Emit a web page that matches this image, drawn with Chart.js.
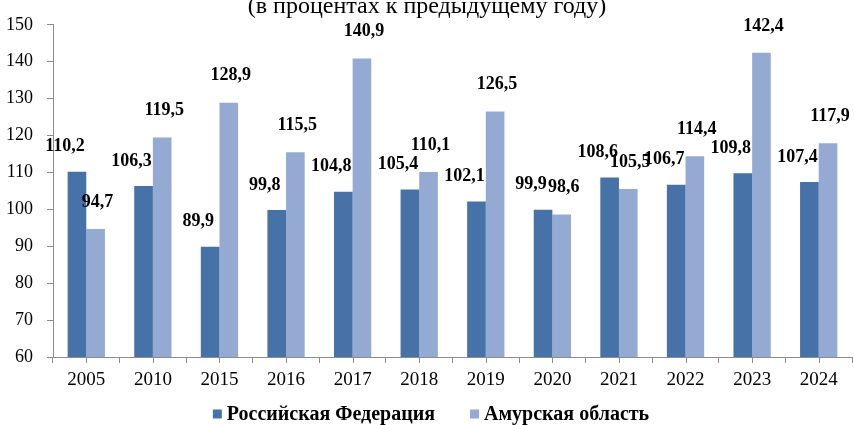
<!DOCTYPE html>
<html>
<head>
<meta charset="utf-8">
<script src="https://cdn.jsdelivr.net/npm/chart.js@4/dist/chart.umd.min.js"></script>
<style>
  html, body { margin: 0; padding: 0; background: #ffffff; }
  #wrap { width: 854px; height: 425px; position: relative; }
</style>
</head>
<body>
<div id="wrap"><canvas id="c" width="854" height="425"></canvas></div>
<script>
const categories = ['2005', '2010', '2015', '2016', '2017', '2018', '2019', '2020', '2021', '2022', '2023', '2024'];
const russiaValues = [110.2, 106.3, 89.9, 99.8, 104.8, 105.4, 102.1, 99.9, 108.6, 106.7, 109.8, 107.4];
const amurValues = [94.7, 119.5, 128.9, 115.5, 140.9, 110.1, 126.5, 98.6, 105.5, 114.4, 142.4, 117.9];
const seriesNames = ['Российская Федерация', 'Амурская область'];
const titleText = '(в процентах к предыдущему году)';
const yMin = 60, yMax = 150, yStep = 10;

const SERIF = '"Liberation Serif", "Times New Roman", serif';
const AXIS_COLOR = '#8c8c8c';
const COLORS = ['#4672a8', '#95aad3'];

const fmt = v => v.toFixed(1).replace('.', ',');

const titlePlugin = {
  id: 'cutTitle',
  afterDraw(chart) {
    const ctx = chart.ctx;
    ctx.save();
    ctx.font = '24px ' + SERIF;
    ctx.fillStyle = '#000';
    ctx.textAlign = 'center';
    ctx.textBaseline = 'alphabetic';
    ctx.fillText(titleText, 427, 13);
    ctx.restore();
  }
};

const legendPlugin = {
  id: 'bottomLegend',
  afterDraw(chart) {
    const ctx = chart.ctx;
    ctx.save();
    ctx.font = 'bold 20px ' + SERIF;
    ctx.textBaseline = 'middle';
    ctx.textAlign = 'left';
    const box = 9, gap = 5, spacing = 35;
    const widths = seriesNames.map(n => ctx.measureText(n).width);
    const total = widths.reduce((a, w) => a + box + gap + w, 0) + spacing * (seriesNames.length - 1);
    let x = 431 - total / 2;
    const cy = 414;
    seriesNames.forEach((n, i) => {
      ctx.fillStyle = COLORS[i];
      ctx.fillRect(x, cy - box / 2, box, box);
      ctx.fillStyle = '#000';
      ctx.fillText(n, x + box + gap, cy + 1);
      x += box + gap + widths[i] + spacing;
    });
    ctx.restore();
  }
};

const labelPlugin = {
  id: 'barLabels',
  afterDatasetsDraw(chart) {
    const ctx = chart.ctx;
    ctx.save();
    ctx.font = 'bold 18px ' + SERIF;
    ctx.fillStyle = '#000';
    ctx.textAlign = 'center';
    ctx.textBaseline = 'bottom';
    chart.data.datasets.forEach((ds, di) => {
      const meta = chart.getDatasetMeta(di);
      const dx = di === 0 ? -12 : 2;
      const dy = di === 0 ? 16 : 18;
      meta.data.forEach((bar, i) => {
        ctx.fillText(fmt(ds.data[i]), bar.x + dx, bar.y - dy);
      });
    });
    ctx.restore();
  }
};

const xTickPlugin = {
  id: 'xCenterTicks',
  afterDraw(chart) {
    const xs = chart.scales.x;
    const ctx = chart.ctx;
    ctx.save();
    ctx.strokeStyle = AXIS_COLOR;
    ctx.lineWidth = 1;
    ctx.beginPath();
    for (let i = 0; i < categories.length; i++) {
      const x = Math.round(xs.getPixelForValue(i)) + 0.5;
      ctx.moveTo(x, xs.top);
      ctx.lineTo(x, xs.top + 6);
    }
    ctx.stroke();
    ctx.restore();
  }
};

new Chart(document.getElementById('c'), {
  type: 'bar',
  data: {
    labels: categories,
    datasets: [
      { label: seriesNames[0], data: russiaValues, backgroundColor: COLORS[0], borderWidth: 0,
        categoryPercentage: 0.56, barPercentage: 1.0 },
      { label: seriesNames[1], data: amurValues, backgroundColor: COLORS[1], borderWidth: 0,
        categoryPercentage: 0.56, barPercentage: 1.0 }
    ]
  },
  options: {
    responsive: false,
    animation: false,
    layout: { padding: { top: 6.5, right: 2, left: 0, bottom: 0 } },
    plugins: {
      legend: { display: false },
      title: { display: false },
      tooltip: { enabled: false }
    },
    scales: {
      x: {
        grid: { display: true, drawOnChartArea: false, drawTicks: true, tickLength: 6, color: AXIS_COLOR, offset: true },
        border: { display: true, color: AXIS_COLOR },
        ticks: { color: '#000', padding: 6, font: { family: SERIF, size: 19 }, maxRotation: 0 },
        afterFit(scale) { scale.height = 68; }
      },
      y: {
        min: yMin, max: yMax,
        grid: { display: true, drawOnChartArea: false, drawTicks: true, tickLength: 6, color: AXIS_COLOR },
        border: { display: true, color: AXIS_COLOR },
        ticks: { stepSize: yStep, color: '#000', padding: 14, font: { family: SERIF, size: 18 } },
        afterFit(scale) { scale.width = 53; }
      }
    }
  },
  plugins: [titlePlugin, legendPlugin, labelPlugin, xTickPlugin]
});
</script>
</body>
</html>
